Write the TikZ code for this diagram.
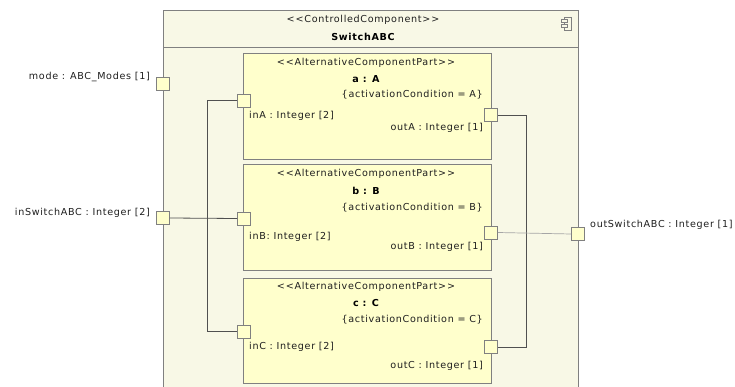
\documentclass[tikz,border=0pt]{standalone}
\usepackage{fontspec}
\setmainfont{DejaVu Sans}[LetterSpace=7]
\definecolor{outerfill}{RGB}{248,248,230}
\definecolor{partfill}{RGB}{255,255,204}
\definecolor{bordergray}{RGB}{128,128,128}
\definecolor{linegray}{RGB}{80,80,80}
\definecolor{textgray}{RGB}{30,30,30}
\newcommand{\lsg}{<\kern1pt<}
\newcommand{\rsg}{>\kern1pt>}
\begin{document}
\begin{tikzpicture}[x=1pt,y=-1pt,
  txt/.style={inner sep=0pt,font=\fontsize{9.6}{11}\selectfont,text=textgray},
  btxt/.style={inner sep=0pt,font=\fontsize{9.6}{12}\selectfont\bfseries,text=black},
  portbox/.style={draw=bordergray,fill=partfill,minimum width=13pt,minimum height=13pt,inner sep=0pt,line width=0.8pt},
  partbox/.style={draw=bordergray,fill=partfill,line width=0.8pt},
  wire/.style={draw=linegray,line width=0.8pt},
  lightwire/.style={draw=bordergray!70,line width=0.7pt}
]
\useasboundingbox (0,0) rectangle (735,387);
% outer component
\path[draw=bordergray,fill=outerfill,line width=0.8pt] (163,10) -- (578,10) -- (578,388) -- (163,388) -- cycle;
\draw[bordergray,line width=0.8pt] (163,47) -- (578,47);
\node[txt] (st) at (363,20) {\lsg ControlledComponent\rsg};
\node[btxt] (nm) at (363,37) {SwitchABC};
% component icon
\draw[bordergray,line width=0.6pt] (564.5,17.5) rectangle (571,30);
\draw[bordergray,fill=outerfill,line width=0.6pt] (561.5,19.5) rectangle (567,22.5);
\draw[bordergray,fill=outerfill,line width=0.6pt] (561.5,24.5) rectangle (567,27.5);

% parts
\node[partbox,minimum width=248pt,minimum height=106pt,anchor=north west,inner sep=0pt] (A) at (243,53) {};
\node[partbox,minimum width=248pt,minimum height=106pt,anchor=north west,inner sep=0pt] (B) at (243,164) {};
\node[partbox,minimum width=248pt,minimum height=105pt,anchor=north west,inner sep=0pt] (C) at (243,278) {};

% part A texts
\node[txt] (Ast) at (366,63) {\lsg AlternativeComponentPart\rsg};
\node[btxt] (Anm) at (366,79) {a : A};
\node[txt,anchor=east] (Acd) at (483,95) {\{activationCondition = A\}};
\node[txt,anchor=west] (Ain) at (249,116) {inA : Integer [2]};
\node[txt,anchor=east] (Aout) at (483,128) {outA : Integer [1]};
% part B texts
\node[txt] (Bst) at (366,174) {\lsg AlternativeComponentPart\rsg};
\node[btxt] (Bnm) at (366,191) {b : B};
\node[txt,anchor=east] (Bcd) at (483,208) {\{activationCondition = B\}};
\node[txt,anchor=west] (Bin) at (249,237) {inB: Integer [2]};
\node[txt,anchor=east] (Bout) at (483,247) {outB : Integer [1]};
% part C texts
\node[txt] (Cst) at (366,287) {\lsg AlternativeComponentPart\rsg};
\node[btxt] (Cnm) at (366,303) {c : C};
\node[txt,anchor=east] (Ccd) at (483,320) {\{activationCondition = C\}};
\node[txt,anchor=west] (Cin) at (249,347) {inC : Integer [2]};
\node[txt,anchor=east] (Cout) at (483,366) {outC : Integer [1]};

% outer ports
\node[portbox] (mode) at (163,83.5) {};
\node[portbox] (inSw) at (163,218) {};
\node[portbox] (outSw) at (578,234) {};
\node[txt,anchor=east] (modeL) at (150,77) {mode : ABC\_Modes [1]};
\node[txt,anchor=east] (inSwL) at (150,213) {inSwitchABC : Integer [2]};
\node[txt,anchor=west] (outSwL) at (590,225) {outSwitchABC : Integer [1]};

% part ports
\node[portbox] (inA) at (244,100.5) {};
\node[portbox] (inB) at (244,218.5) {};
\node[portbox] (inC) at (244,331.5) {};
\node[portbox] (outA) at (491,115) {};
\node[portbox] (outB) at (491,232.5) {};
\node[portbox] (outC) at (491,347) {};

% connectors
\draw[wire] (inA.west) -- ++(-30,0) coordinate (lv) |- (inC.west);
\draw[wire] (inSw.east) -- (inB.west);
\draw[wire] (outA.east) -- ++(28,0) coordinate (rv) |- (outC.east);
\draw[lightwire] (outB.east) -- (outSw.west);
\end{tikzpicture}
\end{document}
